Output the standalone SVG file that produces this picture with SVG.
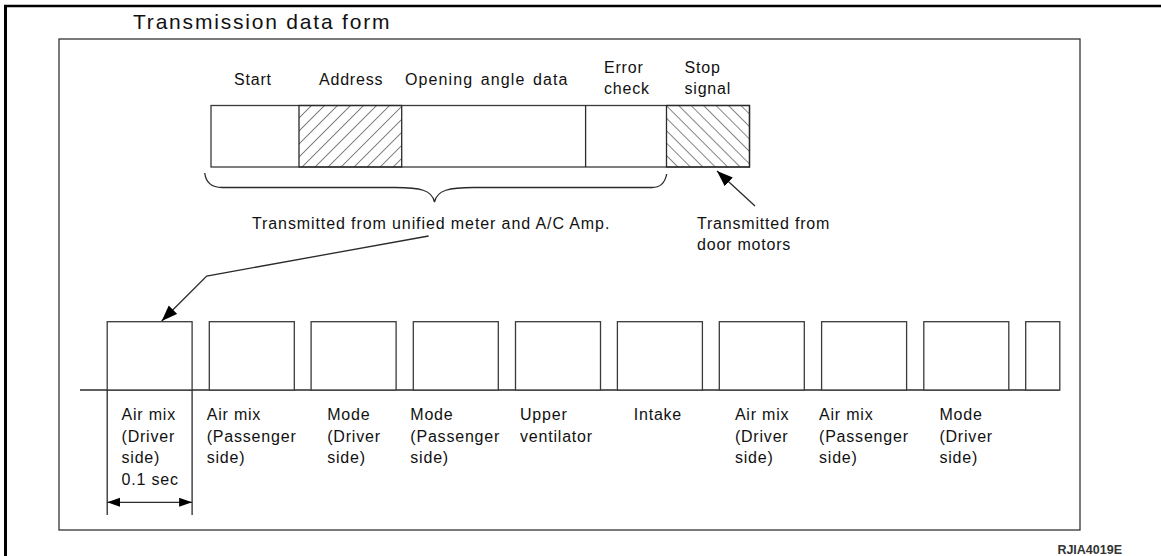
<svg xmlns="http://www.w3.org/2000/svg" width="1161" height="556" viewBox="0 0 1161 556">
<style>
.ln{fill:none;stroke:#2a2a2a;stroke-width:1.3}
.bx{fill:#fff;stroke:#3a3a3a;stroke-width:1.3}
.t{font-family:"Liberation Sans",Arial,sans-serif;font-size:16px;letter-spacing:0.8px;fill:#111}
.ttl{font-family:"Liberation Sans",Arial,sans-serif;font-size:21px;letter-spacing:1.8px;fill:#111}
.code{font-family:"Liberation Sans",Arial,sans-serif;font-size:12.5px;font-weight:bold;fill:#333}
</style>
<defs>
<pattern id="hatchA" patternUnits="userSpaceOnUse" width="9.2" height="9.2" patternTransform="rotate(45)">
<line x1="0" y1="0" x2="0" y2="9.2" stroke="#222" stroke-width="1.1"/>
</pattern>
<pattern id="hatchB" patternUnits="userSpaceOnUse" width="8.8" height="8.8" patternTransform="rotate(-45)">
<line x1="0" y1="0" x2="0" y2="8.8" stroke="#222" stroke-width="1.1"/>
</pattern>
<marker id="ah" markerUnits="userSpaceOnUse" markerWidth="17" markerHeight="13" refX="16" refY="6" orient="auto">
<path d="M0,0 L16,6 L0,12 z" fill="#000"/>
</marker>
<marker id="dh" markerUnits="userSpaceOnUse" markerWidth="14" markerHeight="10" refX="13" refY="4.5" orient="auto-start-reverse">
<path d="M0,0 L13,4.5 L0,9 z" fill="#000"/>
</marker>
</defs>

<g id="frame">
<line x1="4" y1="6" x2="1161" y2="6" stroke="#000" stroke-width="2.5"/>
<line x1="5.5" y1="5" x2="5.5" y2="556" stroke="#000" stroke-width="3"/>
<rect x="59" y="39" width="1021" height="491" fill="none" stroke="#333" stroke-width="1.3"/>
</g>

<text class="ttl" x="133" y="29">Transmission data form</text>

<g id="data-form">
<rect class="bx" x="211" y="105.5" width="538.5" height="61.5"/>
<rect x="299" y="105.5" width="102.7" height="61.5" fill="url(#hatchA)" stroke="#2a2a2a" stroke-width="1.3"/>
<rect x="666.5" y="105.5" width="83" height="61.5" fill="url(#hatchB)" stroke="#2a2a2a" stroke-width="1.3"/>
<line class="ln" x1="585.6" y1="105.5" x2="585.6" y2="167"/>
<text class="t" x="234" y="85">Start</text>
<text class="t" x="319" y="85">Address</text>
<text class="t" x="405" y="85" style="letter-spacing:1.1px;word-spacing:2px">Opening angle data</text>
<text class="t" x="604" y="73">Error<tspan x="604" dy="21">check</tspan></text>
<text class="t" x="684.5" y="73">Stop<tspan x="684.5" dy="21">signal</tspan></text>
</g>

<g id="brace">
<path class="ln" d="M204.7,173 C206,183 212,187.5 222,187.5 L395,187.5 C420,187.5 432,190 434.5,202 C437,190 449,187.5 474,187.5 L652,187.5 C660,187.5 665,183 666.7,174"/>
</g>

<g id="labels-source">
<text class="t" x="252" y="229" style="letter-spacing:0.9px">Transmitted from unified meter and A/C Amp.</text>
<text class="t" x="697" y="229">Transmitted from<tspan x="697" dy="21">door motors</tspan></text>
</g>

<g id="connectors">
<line class="ln" x1="755" y1="206" x2="717" y2="171" marker-end="url(#ah)" stroke="#000" stroke-width="1.6"/>
<polyline class="ln" points="428.6,236 206.7,276 161.7,321" marker-end="url(#ah)" stroke="#000" stroke-width="1.6"/>
<line class="ln" x1="107.2" y1="502.3" x2="192.1" y2="502.3" marker-start="url(#dh)" marker-end="url(#dh)" stroke="#000" stroke-width="1.6"/>
</g>

<g id="pulse-train">
<line class="ln" x1="80" y1="390" x2="1059.8" y2="390"/>
<rect class="bx" x="107.2" y="321.7" width="84.9" height="68.3"/>
<rect class="bx" x="209.3" y="321.7" width="85" height="68.3"/>
<rect class="bx" x="311.1" y="321.7" width="85" height="68.3"/>
<rect class="bx" x="413.3" y="321.7" width="85" height="68.3"/>
<rect class="bx" x="515.5" y="321.7" width="85" height="68.3"/>
<rect class="bx" x="617.4" y="321.7" width="85" height="68.3"/>
<rect class="bx" x="719.3" y="321.7" width="85" height="68.3"/>
<rect class="bx" x="821.6" y="321.7" width="85" height="68.3"/>
<rect class="bx" x="923.8" y="321.7" width="85" height="68.3"/>
<rect class="bx" x="1025.7" y="321.7" width="34.1" height="68.3"/>
<line class="ln" x1="107.2" y1="390" x2="107.2" y2="515"/>
<line class="ln" x1="192.1" y1="390" x2="192.1" y2="515"/>
</g>

<g id="pulse-labels">
<text class="t" x="121.5" y="420">Air mix<tspan x="121.5" dy="21.5">(Driver</tspan><tspan x="121.5" dy="21.5">side)</tspan><tspan x="121.5" dy="21.5">0.1 sec</tspan></text>
<text class="t" x="206.7" y="420">Air mix<tspan x="206.7" dy="21.5">(Passenger</tspan><tspan x="206.7" dy="21.5">side)</tspan></text>
<text class="t" x="327.2" y="420">Mode<tspan x="327.2" dy="21.5">(Driver</tspan><tspan x="327.2" dy="21.5">side)</tspan></text>
<text class="t" x="410.3" y="420">Mode<tspan x="410.3" dy="21.5">(Passenger</tspan><tspan x="410.3" dy="21.5">side)</tspan></text>
<text class="t" x="520" y="420">Upper<tspan x="520" dy="21.5">ventilator</tspan></text>
<text class="t" x="633.7" y="420">Intake</text>
<text class="t" x="734.9" y="420">Air mix<tspan x="734.9" dy="21.5">(Driver</tspan><tspan x="734.9" dy="21.5">side)</tspan></text>
<text class="t" x="819" y="420">Air mix<tspan x="819" dy="21.5">(Passenger</tspan><tspan x="819" dy="21.5">side)</tspan></text>
<text class="t" x="939.4" y="420">Mode<tspan x="939.4" dy="21.5">(Driver</tspan><tspan x="939.4" dy="21.5">side)</tspan></text>
</g>

<text class="code" x="1122" y="554" text-anchor="end">RJIA4019E</text>
</svg>
